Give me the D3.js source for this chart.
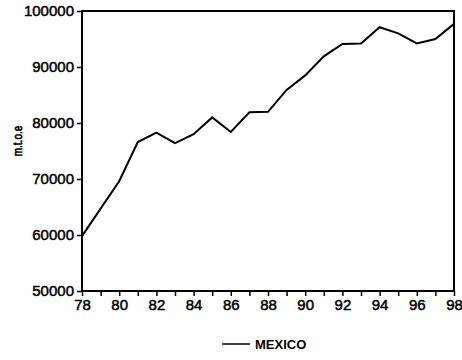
<!DOCTYPE html>
<html>
<head>
<meta charset="utf-8">
<script src="https://cdn.jsdelivr.net/npm/d3@7"></script>
<style>
  html, body { margin: 0; padding: 0; background: #fff; }
  svg { display: block; }
  text { font-family: "Liberation Sans", Arial, Helvetica, sans-serif; fill: #000; }
</style>
</head>
<body>
<svg id="chart" width="462" height="360"></svg>
<script>
// Energy consumption, Mexico (m.t.o.e), 1978-1998
const years = [78, 79, 80, 81, 82, 83, 84, 85, 86, 87, 88, 89, 90, 91, 92, 93, 94, 95, 96, 97, 98];
const mexico = [59800, 64700, 69600, 76600, 78300, 76400, 78000, 81000, 78400, 81900, 82000, 85900, 88500, 91900, 94100, 94200, 97100, 96000, 94200, 95000, 97700];
const yTicks = [50000, 60000, 70000, 80000, 90000, 100000];
const xLabelYears = [78, 80, 82, 84, 86, 88, 90, 92, 94, 96, 98];
const seriesName = "MEXICO";
const yTitle = "m.t.o.e";

const svg = d3.select("#chart");
const plotLeft = 82, plotRight = 454, plotTop = 11, plotBottom = 291;

const x = d3.scaleLinear().domain([78, 98]).range([plotLeft, plotRight]);
const y = d3.scaleLinear().domain([50000, 100000]).range([plotBottom, plotTop]);

// y axis (left, outward ticks)
const yAxis = svg.append("g")
  .attr("transform", `translate(${plotLeft},0)`)
  .call(d3.axisLeft(y).tickValues(yTicks).tickFormat(d3.format("d")).tickSize(5).tickPadding(3));
yAxis.select(".domain").remove();
yAxis.selectAll("line").attr("stroke", "#000").attr("stroke-width", 1.5);
yAxis.selectAll("text").attr("font-size", 15).attr("stroke", "#000").attr("stroke-width", 0.5);

// x axis: a tick every year, labels every other year
const xAxis = svg.append("g")
  .attr("transform", `translate(0,${plotBottom})`)
  .call(d3.axisBottom(x).tickValues(years)
    .tickFormat(d => xLabelYears.includes(d) ? d : "").tickSize(5).tickPadding(3));
xAxis.select(".domain").remove();
xAxis.selectAll("line").attr("stroke", "#000").attr("stroke-width", 1.5);
xAxis.selectAll("text").attr("font-size", 15).attr("stroke", "#000").attr("stroke-width", 0.5);

// plot frame
svg.append("rect")
  .attr("x", plotLeft).attr("y", plotTop)
  .attr("width", plotRight - plotLeft).attr("height", plotBottom - plotTop)
  .attr("fill", "none").attr("stroke", "#000").attr("stroke-width", 2);

// series line
const line = d3.line().x((d, i) => x(years[i])).y(d => y(d));
svg.append("path")
  .datum(mexico)
  .attr("d", line)
  .attr("fill", "none")
  .attr("stroke", "#000")
  .attr("stroke-width", 2)
  .attr("stroke-linejoin", "miter");

// y axis title (rotated, glyphs slightly widened)
svg.append("text")
  .attr("transform", "translate(22,141) rotate(-90) scale(1,1.3)")
  .attr("text-anchor", "middle")
  .attr("font-size", 10)
  .attr("stroke", "#000").attr("stroke-width", 0.5)
  .text(yTitle);

// legend
svg.append("line")
  .attr("x1", 222).attr("x2", 250)
  .attr("y1", 344).attr("y2", 344)
  .attr("stroke", "#000").attr("stroke-width", 1.5);
svg.append("text")
  .attr("x", 255).attr("y", 349)
  .attr("font-size", 13).attr("font-weight", "bold")
  .text(seriesName);
</script>
</body>
</html>
